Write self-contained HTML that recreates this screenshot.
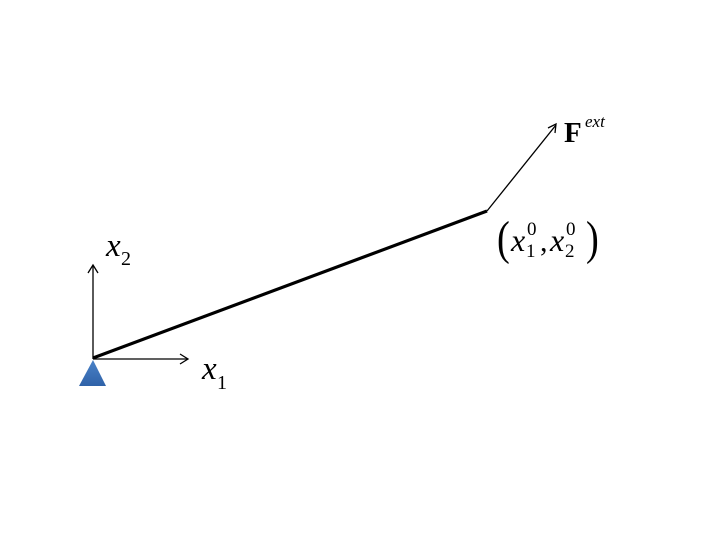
<!DOCTYPE html>
<html><head><style>html,body{margin:0;padding:0;background:#fff;}svg{display:block}</style></head>
<body>
<svg width="720" height="540" viewBox="0 0 720 540" xmlns="http://www.w3.org/2000/svg">
<defs>
<linearGradient id="g" x1="0" y1="0" x2="0" y2="1"><stop offset="0" stop-color="#4a82c8"/><stop offset="1" stop-color="#2f62a8"/></linearGradient>
</defs>
<g stroke="#000" stroke-width="1.3" fill="none">
<line x1="93" y1="359" x2="93" y2="266"/>
<polyline points="88,273 93,265 98,273"/>
<line x1="93" y1="359" x2="187" y2="359"/>
<polyline points="180,354 188,359 180,364"/>
<line x1="487" y1="211" x2="556" y2="125"/>
<polyline points="548,128 556,124 555,133"/>
</g>
<line x1="93" y1="358" x2="487" y2="211" stroke="#000" stroke-width="3.2"/>
<polygon points="93,360 79,386 106,386" fill="url(#g)"/>
<g font-family="Liberation Serif, serif" fill="#000">
<text x="106" y="256" font-size="33" font-style="italic">x</text>
<text x="121" y="265" font-size="20">2</text>
<text x="202" y="379" font-size="33" font-style="italic">x</text>
<text x="217" y="389" font-size="20">1</text>
<text x="564" y="142" font-size="29" font-weight="bold">F</text>
<text x="585" y="127" font-size="17" font-style="italic">ext</text>
<text x="497" y="254" font-size="48" transform="scale(0.8,1)" transform-origin="497 254">(</text>
<text x="511" y="251" font-size="32" font-style="italic">x</text>
<text x="527" y="235" font-size="19">0</text>
<text x="526" y="257" font-size="19">1</text>
<text x="540" y="251" font-size="30">,</text>
<text x="550" y="251" font-size="32" font-style="italic">x</text>
<text x="566" y="235" font-size="19">0</text>
<text x="565" y="257" font-size="19">2</text>
<text x="586" y="254" font-size="48" transform="scale(0.8,1)" transform-origin="586 254">)</text>
</g>
</svg>
</body></html>
